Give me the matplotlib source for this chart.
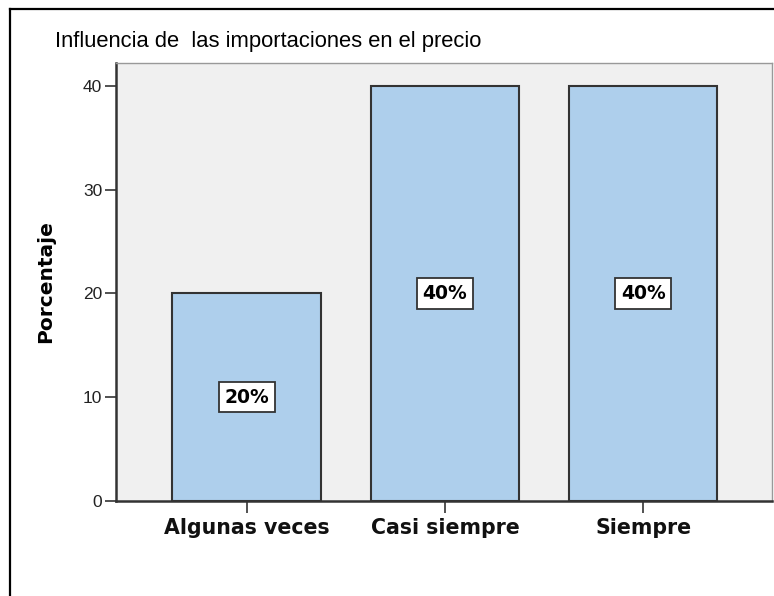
import matplotlib
matplotlib.use("Agg")
import matplotlib.pyplot as plt
from matplotlib.lines import Line2D

plt.rcParams['font.family'] = ['Liberation Sans', 'DejaVu Sans']

categories = ["Algunas veces", "Casi siempre", "Siempre"]
values = [20, 40, 40]
labels = ["20%", "40%", "40%"]
yticks = [0, 10, 20, 30, 40]

W, H = 774, 596
fig = plt.figure(figsize=(W / 100, H / 100), dpi=100)
fig.patch.set_facecolor("white")

left, right, top, bottom = 116, 772, 63, 501
ax = fig.add_axes([left / W, 1 - bottom / H, (right - left) / W, (bottom - top) / H])
ax.set_facecolor("#F0F0F0")

x = list(range(len(categories)))
ax.bar(x, values, width=0.75, color="#AECFEC", edgecolor="#333333", linewidth=1.5, zorder=2)

for xi, v, lab in zip(x, values, labels):
    ax.text(xi, v / 2, lab, ha="center", va="center", fontsize=13.5, fontweight="bold",
            family="DejaVu Sans", color="black", zorder=3,
            bbox=dict(boxstyle="square,pad=0.3", facecolor="white", edgecolor="#333333", linewidth=1.3))

ax.set_xlim(-0.66, 2.65)
ax.set_ylim(0, 42.2)
ax.set_yticks(yticks)
ax.set_yticklabels([str(t) for t in yticks], fontsize=12.5, color="#222222")
ax.set_xticks(x)
ax.set_xticklabels(categories, fontsize=14.8, fontweight="bold", color="#111111", family="DejaVu Sans")
ax.tick_params(axis="y", direction="out", length=8, width=1.2, color="#333333", pad=2)
ax.tick_params(axis="x", direction="out", length=8.5, width=1.2, color="#333333", pad=4)

for s in ["left", "bottom"]:
    ax.spines[s].set_color("#333333")
    ax.spines[s].set_linewidth(1.8)
for s in ["top", "right"]:
    ax.spines[s].set_color("#999999")
    ax.spines[s].set_linewidth(1.0)

ax.set_ylabel("Porcentaje", fontsize=14.5, fontweight="bold", family="DejaVu Sans", labelpad=20)

fig.text(55 / W, 1 - 42 / H, "Influencia de  las importaciones en el precio",
         fontsize=15.8, ha="left", va="center", color="black")

# outer frame (left and top edges)
fig.add_artist(Line2D([10 / W, 10 / W], [0, 1 - 9 / H], transform=fig.transFigure, color="black", linewidth=1.6))
fig.add_artist(Line2D([10 / W, 1], [1 - 9 / H, 1 - 9 / H], transform=fig.transFigure, color="black", linewidth=1.6))

fig.savefig("out.png", dpi=100)
